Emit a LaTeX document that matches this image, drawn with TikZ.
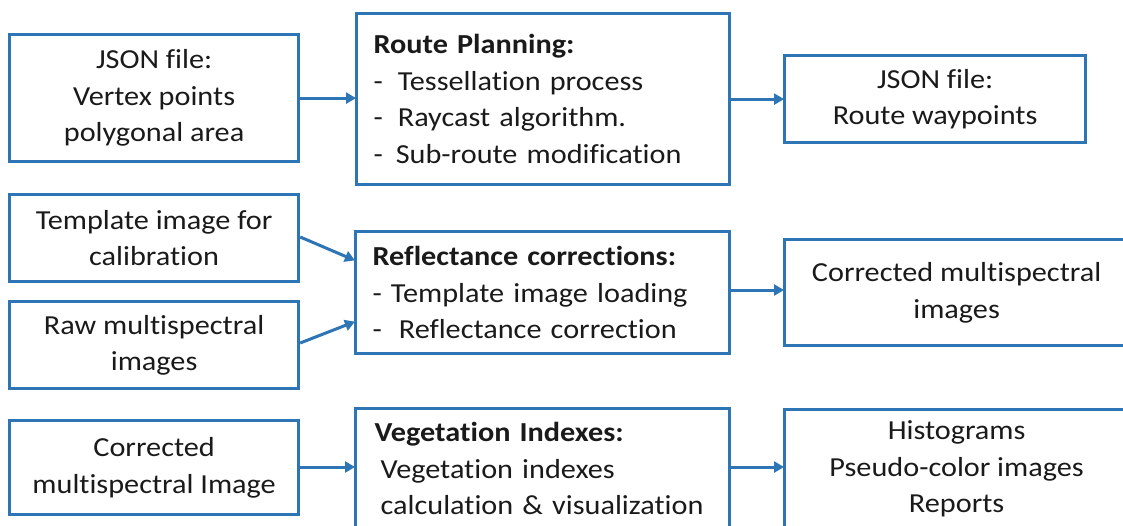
\documentclass[tikz,border=0pt]{standalone}
\usepackage{fontspec}
\setmainfont{Carlito}[FakeStretch=1.1, Ligatures=NoCommon]
\usetikzlibrary{arrows.meta}
\definecolor{boxblue}{HTML}{2E75B6}
\definecolor{txt}{HTML}{1A1A1A}
\tikzset{
  box/.style={draw=boxblue, line width=3.2pt, fill=white, anchor=north west,
    inner sep=0pt, text=txt, font=\fontsize{27.5}{36.5}\selectfont},
  cbox/.style={box, align=center},
  lbox/.style={box, align=left},
  conn/.style={draw=boxblue, line width=3pt, -{Triangle[length=10pt,width=11pt]}, shorten >=-1pt}
}
\begin{document}
\begin{tikzpicture}[x=1pt,y=-1pt]
\useasboundingbox (0,0) rectangle (1123,525);
\fill[white] (0,0) rectangle (1123,525);
\begin{scope}
\clip (0,0) rectangle (1123,525);
% left column
\node[cbox, minimum width=289pt, minimum height=127pt] (jsonin) at (8,33)
  {JSON file:\\Vertex points\\polygonal area};
\node[cbox, minimum width=289pt, minimum height=87pt] (tmpl) at (8,193)
  {Template image for\\calibration};
\node[cbox, minimum width=289pt, minimum height=87pt] (raw) at (8,300)
  {Raw multispectral\\images};
\node[cbox, minimum width=289pt, minimum height=94pt] (corrin) at (8,419)
  {Corrected\\multispectral Image};
% middle column
\node[lbox, text width=373pt, minimum height=171pt] (route) at (355,12)
  {\hspace*{17pt}\textbf{Route Planning:}\\
   \hspace*{17pt}-\hspace{15pt}Tessellation process\\
   \hspace*{17pt}-\hspace{15pt}Raycast algorithm.\\
   \hspace*{17pt}-\hspace{13pt}Sub-route modification};
\node[lbox, text width=374pt, minimum height=122pt] (refl) at (354,230)
  {\hspace*{17pt}\textbf{Reflectance corrections:}\\
   \hspace*{17pt}- Template image loading\\
   \hspace*{17pt}-\hspace{17pt}Reflectance correction};
\node[lbox, text width=374pt, minimum height=120pt] (veg) at (354,407)
  {\hspace*{19pt}\textbf{Vegetation Indexes:}\\
   \hspace*{25pt}Vegetation indexes\\
   \hspace*{25pt}calculation \& visualization};
% right column
\node[cbox, minimum width=301pt, minimum height=87pt] (jsonout) at (783,54)
  {JSON file:\\Route waypoints};
\node[cbox, minimum width=344pt, minimum height=106pt] (corrout) at (783,238)
  {Corrected multispectral\\images};
\node[cbox, minimum width=344pt, minimum height=119pt] (hist) at (783,408)
  {Histograms\\Pseudo-color images\\Reports};
% connectors
\draw[conn] (jsonin.east) -- (route.west |- jsonin.east);
\draw[conn] (route.east |- jsonout.west) -- (jsonout.west);
\draw[conn] ([yshift=-44pt]tmpl.north east) -- ([yshift=-30pt]refl.north west);
\draw[conn] ([yshift=-43pt]raw.north east) -- ([yshift=-92pt]refl.north west);
\draw[conn] (refl.east |- 0,290) -- (corrout.west |- 0,290);
\draw[conn] (corrin.east |- 0,467) -- (veg.west |- 0,467);
\draw[conn] (veg.east |- 0,467) -- (hist.west |- 0,467);
\end{scope}
\end{tikzpicture}
\end{document}
